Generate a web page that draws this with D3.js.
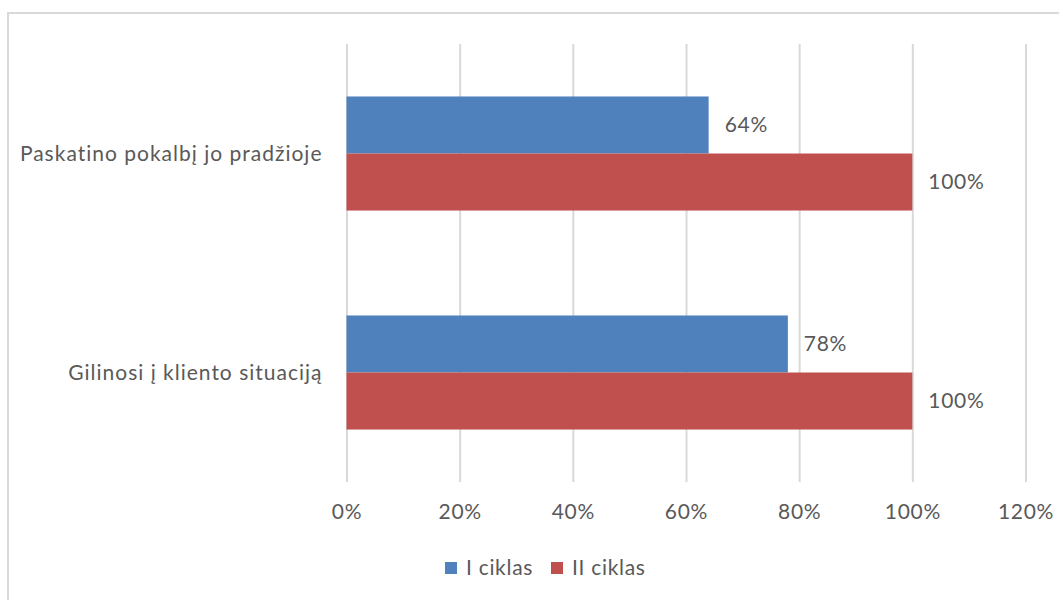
<!DOCTYPE html>
<html>
<head>
<meta charset="utf-8">
<script src="https://cdn.jsdelivr.net/npm/d3@7"></script>
<style>
  body { margin: 0; background: #fff; }
  text { font-family: Lato, sans-serif; fill: #595959; letter-spacing: 0.7px; }
</style>
</head>
<body>
<script>
// chart data
var categories = ["Paskatino pokalbį jo pradžioje", "Gilinosi į kliento situaciją"];
var seriesNames = ["I ciklas", "II ciklas"];
var seriesI = [0.64, 0.78];
var seriesII = [1.00, 1.00];
var xTicks = [0, 0.2, 0.4, 0.6, 0.8, 1.0, 1.2];
var colors = ["#4F81BD", "#C0504D"];

var W = 1059, H = 600;
var plot = { left: 346.5, right: 1025.5, top: 44, bottom: 482 };
var fontSize = "21px";

var svg = d3.select("body").append("svg")
  .attr("width", W)
  .attr("height", H);

// outer border of chart area
svg.append("rect")
  .attr("x", 8).attr("y", 13)
  .attr("width", W + 10).attr("height", H + 10)
  .attr("fill", "none")
  .attr("stroke", "#D9D9D9")
  .attr("stroke-width", 2);

var xScale = d3.scaleLinear().domain([0, 1.2]).range([plot.left, plot.right]);
var yScale = d3.scaleBand().domain(categories).range([plot.top, plot.bottom]).paddingInner(0).paddingOuter(0);
var inner = d3.scaleBand().domain([0, 1]).range([0, yScale.bandwidth()]).paddingOuter(0.92).paddingInner(0);

// gridlines
var xAxis = d3.axisBottom(xScale)
  .tickValues(xTicks)
  .tickSize(-(plot.bottom - plot.top))
  .tickFormat(d3.format(".0%"))
  .tickPadding(22);

var gx = svg.append("g")
  .attr("class", "x axis")
  .attr("transform", "translate(0," + plot.bottom + ")")
  .call(xAxis);
gx.select(".domain").remove();
gx.selectAll("line").attr("stroke", "#D9D9D9").attr("stroke-width", 2);
gx.selectAll("text")
  .style("font-size", fontSize)
  .attr("dy", "0.71em")
  .attr("fill", "#595959");

// category labels
svg.append("g").selectAll("text")
  .data(categories)
  .enter().append("text")
  .attr("x", plot.left - 24)
  .attr("y", (d) => yScale(d) + yScale.bandwidth() / 2)
  .attr("dy", "0.35em")
  .attr("text-anchor", "end")
  .style("font-size", fontSize)
  .style("letter-spacing", "1px")
  .text((d) => d);

var series = [seriesI, seriesII];
series.forEach((vals, si) => {
  var g = svg.append("g");
  g.selectAll("rect")
    .data(vals)
    .enter().append("rect")
    .attr("x", xScale(0))
    .attr("y", (d, i) => yScale(categories[i]) + inner(si))
    .attr("width", (d) => xScale(d) - xScale(0))
    .attr("height", inner.bandwidth())
    .attr("fill", colors[si]);
  g.selectAll("text")
    .data(vals)
    .enter().append("text")
    .attr("x", (d) => xScale(d) + 16)
    .attr("y", (d, i) => yScale(categories[i]) + inner(si) + inner.bandwidth() / 2)
    .attr("dy", "0.35em")
    .style("font-size", fontSize)
    .text((d) => d3.format(".0%")(d));
});

// legend
var legend = svg.append("g").attr("transform", "translate(0,568)");
var legX = [445, 551];
seriesNames.forEach((name, i) => {
  legend.append("rect")
    .attr("x", legX[i]).attr("y", -6)
    .attr("width", 12).attr("height", 12)
    .attr("fill", colors[i]);
  legend.append("text")
    .attr("x", legX[i] + 21).attr("y", 0)
    .attr("dy", "0.35em")
    .style("font-size", fontSize)
    .text(name);
});
</script>
</body>
</html>
